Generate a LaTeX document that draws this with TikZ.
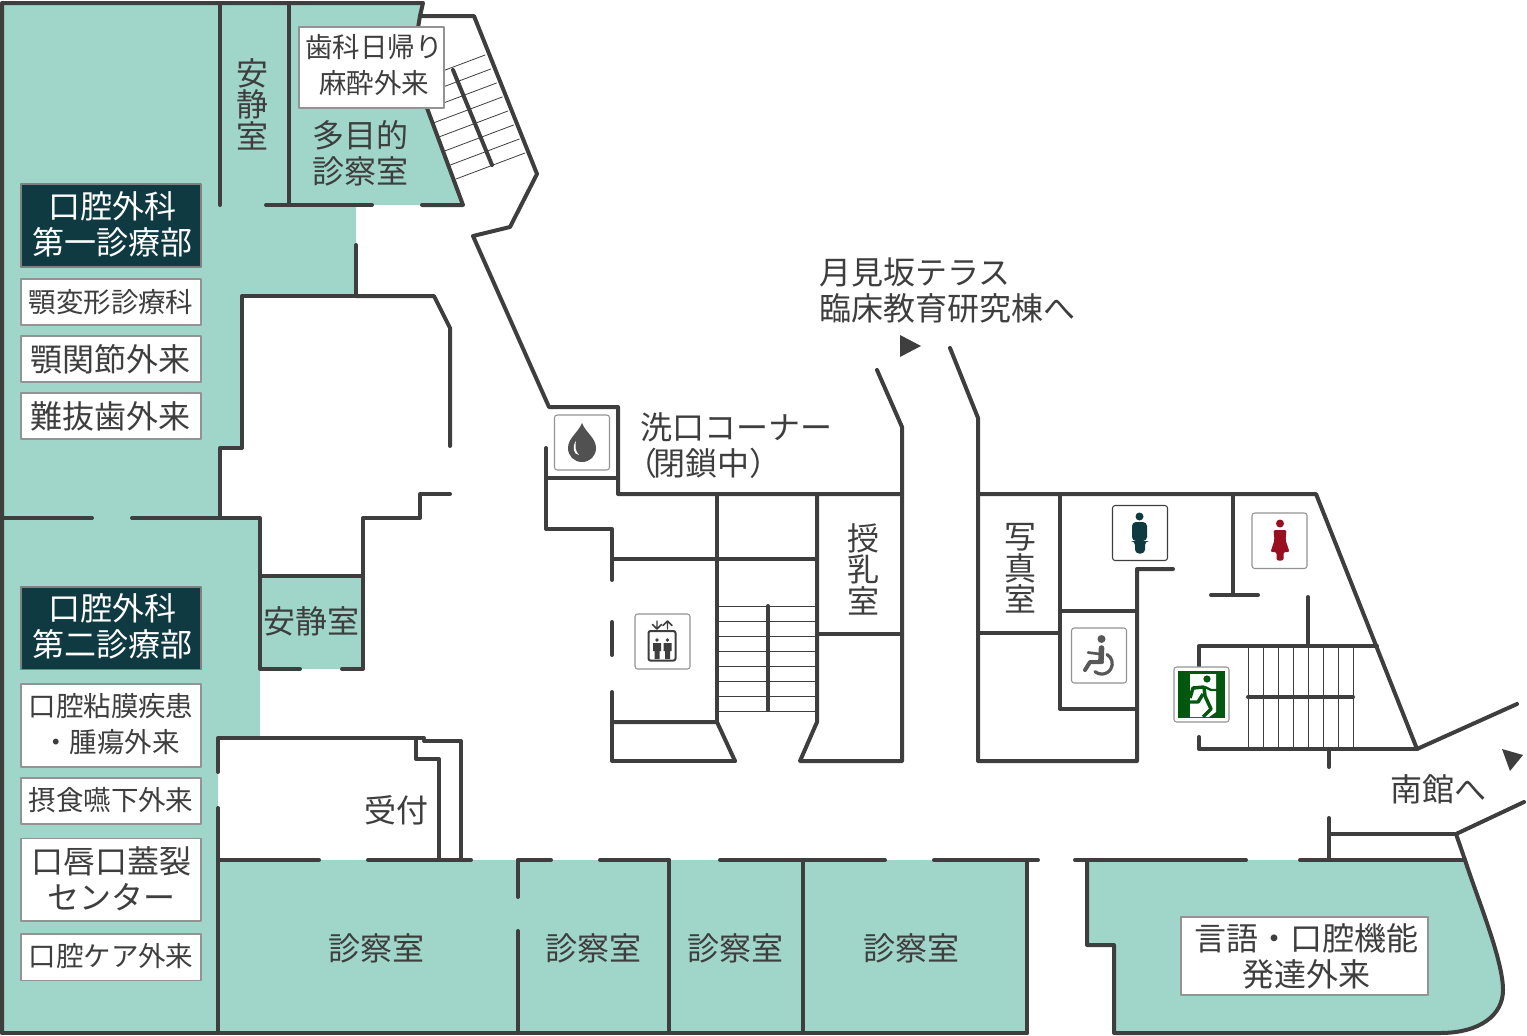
\documentclass[tikz,border=0pt]{standalone}
\usepackage{fontspec}
\setmainfont{Noto Sans CJK JP}
\definecolor{roomteal}{HTML}{A0D6C9}
\definecolor{wallgray}{HTML}{3E3E3E}
\definecolor{darkbox}{HTML}{0F3A42}
\definecolor{iconred}{HTML}{9A0F20}
\definecolor{icongreen}{HTML}{04570F}
\definecolor{icongray}{HTML}{585858}
\newcommand{\bigtxt}{\fontsize{24}{27}\selectfont}
\newcommand{\tatetxt}{\fontsize{24}{23.7}\selectfont}
\newcommand{\smalltxt}{\fontsize{20.6}{27}\selectfont}
\tikzset{
	wall/.style={line width=3pt,color=wallgray},
	thinstep/.style={line width=0.6pt,color=wallgray},
	room/.style={font=\bigtxt,text=wallgray,align=center,inner sep=0pt},
	smallroom/.style={font=\smalltxt,text=wallgray,align=center,inner sep=0pt},
	whiteroom/.style={font=\bigtxt,text=white,align=center,inner sep=0pt},
	tate/.style={font=\tatetxt,text=wallgray,align=center,inner sep=0pt},
	tag/.style={draw=gray!85,line width=0.8pt,fill=white},
	iconbox/.style={draw=gray!85,line width=0.8pt,fill=white,rounded corners=2pt},
}
\begin{document}
\begin{tikzpicture}[x=0.75pt,y=-0.75pt,line join=round,line cap=round,>=stealth]
	\useasboundingbox (0,0) rectangle (1527,1035);
	% teal rooms
	\fill[roomteal] (2,2)--(423,2)--(418,28)--(427,108)--(463,205)--(356,205)--(356,296)--(242,296)--(242,448)--(220,448)--(220,518)--(260,518)--(260,576)--(362,576)--(362,669)--(260,669)--(260,737)--(218,737)--(218,860)--(1027,860)--(1027,1033)--(2,1033)--cycle;
	\fill[roomteal] (1087,860)--(1465,860) .. controls (1478,900) and (1503,960) .. (1503,990) .. controls (1503,1015) and (1480,1033) .. (1440,1033)--(1114,1033)--(1114,945)--(1087,945)--cycle;
	% outer walls, upper left
	\draw[wall] (2,1033)--(2,3)--(423,3)--(420,16)--(474,16)--(537,174)--(510,227)--(473,236)--(549,407)--(618,407)--(618,494)--(902,494);
	\draw[wall] (420,16)--(418,28);
	\draw[wall] (427,108)--(463,205)--(422,205);
	\draw[wall] (372,205)--(266,205);
	\draw[wall] (220,3)--(220,205);
	\draw[wall] (289,3)--(289,205);
	\draw[wall] (356,245)--(356,296)--(242,296)--(242,448)--(220,448)--(220,518);
	\draw[wall] (356,296)--(434,296)--(450,328)--(450,446);
	\draw[wall] (450,494)--(420,494)--(420,518)--(363,518)--(363,669)--(342,669);
	\draw[wall] (2,518)--(92,518);
	\draw[wall] (132,518)--(260,518)--(260,669)--(300,669);
	\draw[wall] (260,576)--(363,576);
	% stairs, upper
	\foreach \s in {0,...,7} \draw[thinstep] (456-5.7*\s,179-14*\s)--(525-5.7*\s,153-14*\s);
	\draw[wall] (453,70)--(492,165);
	% reception
	\draw[wall] (218,772)--(218,738)--(424,738);
	\draw[wall] (416,738)--(416,759)--(439,759)--(439,860);
	\draw[wall] (424,741)--(461,741)--(461,860);
	\draw[wall] (218,808)--(218,1033);
	% bottom rooms
	\foreach \a/\b in {218/319,368/471,518/551,600/669,720/885,934/1038,1075/1246,1300/1465} \draw[wall] (\a,860)--(\b,860);
	\draw[wall] (518,860)--(518,897);
	\draw[wall] (518,931)--(518,1033);
	\draw[wall] (669,860)--(669,1033);
	\draw[wall] (803,860)--(803,1033);
	\draw[wall] (1027,860)--(1027,1033);
	\draw[wall] (2,1033)--(1027,1033);
	\draw[wall] (1087,860)--(1087,945)--(1114,945)--(1114,1033)--(1440,1033) .. controls (1480,1033) and (1503,1015) .. (1503,990) .. controls (1503,960) and (1478,900) .. (1465,860)--(1456,834)--(1524,802);
	\draw[wall] (1456,834)--(1329,834);
	\draw[wall] (1329,818)--(1329,860);
	% centre block
	\draw[wall] (546,448)--(546,529)--(612,529)--(612,580);
	\draw[wall] (546,478)--(618,478);
	\draw[wall] (612,559)--(817,559);
	\draw[wall] (612,622)--(612,655);
	\draw[wall] (735,761)--(612,761)--(612,692);
	\draw[wall] (612,722)--(717,722)--(735,761);
	\draw[wall] (717,494)--(717,722);
	\draw[wall] (817,494)--(817,722)--(800,761)--(902,761)--(902,427)--(877,370);
	\draw[wall] (817,634)--(902,634);
	\foreach \y in {606,621,...,711} \draw[thinstep] (717,\y)--(817,\y);
	\draw[wall] (768,606)--(768,710);
	% right block
	\draw[wall] (950,348)--(978,418)--(978,761)--(1137,761)--(1137,569)--(1173,569);
	\draw[wall] (978,494)--(1316,494)--(1417,749)--(1517,704);
	\draw[wall] (1060,494)--(1060,709)--(1137,709);
	\draw[wall] (1060,611)--(1137,611);
	\draw[wall] (978,633)--(1060,633);
	\draw[wall] (1233,494)--(1233,595);
	\draw[wall] (1211,595)--(1258,595);
	\draw[wall] (1308,597)--(1308,646);
	\draw[wall] (1199,668)--(1199,646)--(1377,646);
	\draw[wall] (1199,737)--(1199,749)--(1417,749);
	\draw[wall] (1329,749)--(1329,767);
	\foreach \x in {1248,1263,...,1353} \draw[thinstep] (\x,646)--(\x,749);
	\draw[wall] (1248,697)--(1353,697);
	% arrows
	\fill[wallgray] (900,335)--(921,346)--(900,357)--cycle;
	\fill[wallgray] (1502,749)--(1523,755)--(1510,771)--cycle;
	% tags, left column
	\foreach \a/\b in {184/267,587/669.5} \draw[fill=darkbox,draw=gray,line width=0.8pt] (21,\a) rectangle (201,\b);
	\foreach \a/\b in {279/325,336/382,393/439,684/767,778/824,838.5/921,934/980.5} \draw[tag] (21,\a) rectangle (201,\b);
	\draw[tag] (299,27) rectangle (444,108);
	\draw[tag] (1181,917) rectangle (1428,995);
	\node[whiteroom] (geka1) at (112,224.5) {口腔外科\\第一診療部};
	\node[whiteroom] (geka2) at (112,626.5) {口腔外科\\第二診療部};
	\node[smallroom] (gakuhen) at (111,302) {顎変形診療科};
	\node[room] (kansetsu) at (111,359) {顎関節外来};
	\node[room] (nanbatsu) at (111,416) {難抜歯外来};
	\node[smallroom] (nenmaku) at (111,724.5) {口腔粘膜疾患\\・腫瘍外来};
	\node[smallroom] (sesshoku) at (111,800) {摂食嚥下外来};
	\node[room] (koshin) at (111.5,878.5) {口唇口蓋裂\\センター};
	\node[smallroom] (care) at (111,956) {口腔ケア外来};
	\node[smallroom] (higaeri) at (374,65) {歯科日帰り\\麻酔外来};
	\node[room] (gengo) at (1306,956) {言語・口腔機能\\発達外来};
	% rooms
	\node[tate] (ansei1) at (252,104) {安\\静\\室};
	\node[tate] (junyu) at (863,569) {授\\乳\\室};
	\node[tate] (shashin) at (1020,568.5) {写\\真\\室};
	\node[room] (tamoku) at (360,153) {多目的\\診察室};
	\node[room] (ansei2) at (311,621) {安静室};
	\node[room] (uketsuke) at (396,810) {受付};
	\node[room] (shin1) at (376,948) {診察室};
	\node[room] (shin2) at (593,948) {診察室};
	\node[room] (shin3) at (735,948) {診察室};
	\node[room] (shin4) at (911,948) {診察室};
	\node[room,anchor=west,align=left] (tsukimi) at (819,290) {月見坂テラス\\臨床教育研究棟へ};
	\node[room,anchor=west,align=left] (senko) at (640,445.5) {洗口コーナー\\\hspace*{-11pt}（\hspace{-3pt}閉鎖中）};
	\node[room,anchor=west] (nankan) at (1390,789) {南館へ};
	% water
	\draw[iconbox] (554.5,415) rectangle (609.5,470);
	\fill[wallgray!90] (582,423) .. controls (578,433) and (568,438) .. (568,448) .. controls (568,456) and (574,462) .. (582,462) .. controls (590,462) and (596,456) .. (596,448) .. controls (596,438) and (586,433) .. (582,423)--cycle;
	\fill[white] (576,441) .. controls (572,447) and (573,454) .. (579,455) .. controls (575,451) and (575,446) .. (576,441)--cycle;
	% elevator
	\draw[iconbox] (635,614) rectangle (690,669);
	\draw[line width=1.5pt,color=wallgray,rounded corners=1.5pt] (648.5,631) rectangle (675.5,660.5);
	\foreach \x in {657,667.5} {
		\fill[wallgray] (\x,640) circle (1.9);
		\fill[wallgray] (\x-4,643)--(\x+4,643)--(\x+4,651)--(\x+2.5,651)--(\x+2.5,659)--(\x-2.5,659)--(\x-2.5,651)--(\x-4,651)--cycle;
	}
	\draw[line width=1.1pt,color=wallgray] (657,621)--(657,629) (652.5,624.5)--(657,629)--(661.5,624.5);
	\draw[line width=1.1pt,color=wallgray] (667.5,629)--(667.5,621) (663,625.5)--(667.5,621)--(672,625.5);
	% men
	\draw[iconbox,draw=wallgray] (1112.5,505.5) rectangle (1167.5,560.5);
	\fill[darkbox] (1139.5,516.5) circle (4);
	\fill[darkbox,rounded corners=3pt] (1132,522)--(1147,522)--(1147,541)--(1145,541)--(1145,553.5)--(1135,553.5)--(1135,541)--(1132,541)--cycle;
	% women
	\draw[iconbox] (1252,513) rectangle (1307,568.5);
	\fill[iconred] (1280,523.5) circle (4);
	\fill[iconred,rounded corners=1.5pt] (1273.5,530)--(1286.5,530)--(1285.5,540)--(1289.5,552)--(1283.5,552)--(1283.5,560.5)--(1276.5,560.5)--(1276.5,552)--(1270.5,552)--(1274.5,540)--cycle;
	% wheelchair
	\draw[iconbox] (1071.5,628) rectangle (1126.5,683);
	\fill[icongray] (1101.5,639) circle (4);
	\draw[line width=4.2pt,color=icongray] (1101.5,648)--(1101,660);
	\draw[line width=3pt,color=icongray] (1102,662)--(1090,662)--(1085,670);
	\draw[line width=2pt,color=icongray] (1088,652.5)--(1100,654);
	\draw[line width=2.4pt,color=icongray] (1107,654.5) arc[start angle=-60,end angle=130,radius=10.5];
	% exit
	\draw[iconbox] (1174,667) rectangle (1229,722);
	\fill[icongreen] (1178,671) rectangle (1225,718);
	\fill[white] (1190,674)--(1216,674)--(1216,712)--(1209,717)--(1190,717)--cycle;
	\fill[icongreen] (1207,679) circle (3.6);
	\draw[line width=2.6pt,color=icongreen,line cap=butt] (1190,698)--(1193,688)--(1204,687)--(1205,696)--(1211,709)--(1203,717);
	\draw[line width=2.6pt,color=icongreen,line cap=butt] (1203,694)--(1198,702)--(1189,702);
	\draw[line width=1.8pt,color=icongreen,line cap=butt] (1205,687)--(1211,690)--(1217,690);
\end{tikzpicture}
\end{document}
